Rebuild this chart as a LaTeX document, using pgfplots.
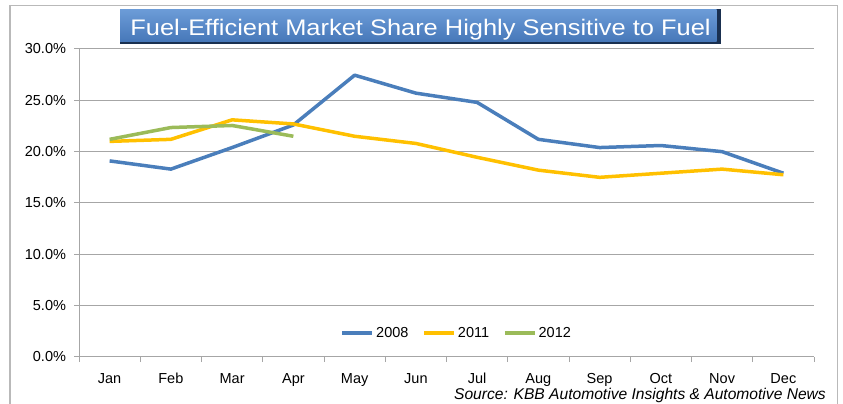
\documentclass[border=0pt]{standalone}
\usepackage{pgfplots}
\pgfplotsset{compat=1.18}
\usepackage{fontspec}
\setmainfont{Liberation Sans}
\definecolor{cA}{HTML}{4A7EBB}
\definecolor{cB}{HTML}{FFC000}
\definecolor{cC}{HTML}{9BBB59}
\definecolor{gridc}{HTML}{A6A6A6}
\definecolor{ttop}{HTML}{6C9CD8}
\definecolor{tbot}{HTML}{4677B8}
\definecolor{tdark}{HTML}{1A3050}
\begin{document}
\begin{tikzpicture}[x=1pt,y=1pt]
\useasboundingbox (0,0) rectangle (843,404);
\draw[gray!55, line width=1.2pt] (10,0) -- (10,398.7) -- (837.7,398.7) -- (837.7,0);
% title box
\fill[tdark] (120,359.7) rectangle (720.5,394.7);
\shade[top color=ttop, bottom color=tbot] (120,362) rectangle (716.5,394.7);
\node[white, font=\fontsize{22.5}{24}\selectfont, anchor=base] at (420.5,368.7) {\scalebox{1.13}[1]{Fuel-Efficient Market Share Highly Sensitive to Fuel}};
\begin{axis}[
  at={(79pt,47pt)}, anchor=south west, scale only axis,
  width=735pt, height=308pt,
  xmin=0.5, xmax=12.5, ymin=0, ymax=30,
  xtick={1,...,12},
  xticklabels={Jan,Feb,Mar,Apr,May,Jun,Jul,Aug,Sep,Oct,Nov,Dec},
  minor xtick={0.5,1.5,...,12.5},
  ytick={0,5,...,30},
  yticklabel={\pgfmathprintnumber[fixed,fixed zerofill,precision=1]{\tick}\%},
  axis x line*=bottom, axis y line*=left,
  axis line style={gridc, line width=1pt, -},
  ymajorgrids, grid style={gridc, line width=1pt},
  tick align=outside,
  major x tick style={draw=none},
  minor x tick style={gridc, line width=1pt},
  y tick style={gridc, line width=1pt},
  major tick length=5pt, minor tick length=5pt,
  /pgf/number format/assume math mode=true,
  tick label style={font=\fontsize{14.5}{16}\selectfont, black},
  xticklabel style={yshift=-7pt, text height=10.5pt, text depth=3pt},
  yticklabel style={xshift=-4.5pt},
  legend style={at={(0.514,0.078)}, anchor=center, draw=none, fill=none,
    legend columns=-1, font=\fontsize{14.5}{16}\selectfont,
    /tikz/every even column/.append style={column sep=12pt}},
  legend image code/.code={\draw[#1] (0pt,0pt) -- (30pt,0pt);},
]
\addplot[cA, line width=3.5pt, line join=round] coordinates {
(1,19.1) (2,18.3) (3,20.4) (4,22.6) (5,27.45) (6,25.7) (7,24.8) (8,21.2) (9,20.4) (10,20.6) (11,20.0) (12,17.9)};
\addlegendentry{2008}
\addplot[cB, line width=3.5pt, line join=round] coordinates {
(1,21.0) (2,21.2) (3,23.1) (4,22.7) (5,21.5) (6,20.8) (7,19.45) (8,18.2) (9,17.5) (10,17.9) (11,18.3) (12,17.75)};
\addlegendentry{2011}
\addplot[cC, line width=3.5pt, line join=round] coordinates {
(1,21.2) (2,22.35) (3,22.55) (4,21.5)};
\addlegendentry{2012}
\end{axis}
\node[anchor=base east, inner sep=0pt, font=\fontsize{15.6}{17}\selectfont\itshape] at (826,4) {Source: KBB Automotive Insights \& Automotive News};
\end{tikzpicture}
\end{document}
